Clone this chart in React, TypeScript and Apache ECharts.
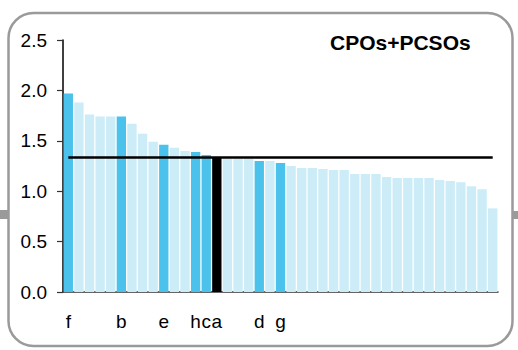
import React, { useEffect, useRef } from "react";
import * as echarts from "echarts";

const categories: string[] = [
  "f", "", "", "", "", "b", "", "", "", "e",
  "", "", "h", "c", "a", "", "", "", "d", "",
  "g", "", "", "", "", "", "", "", "", "",
  "", "", "", "", "", "", "", "", "", "", "",
];

const values: number[] = [
  1.97, 1.88, 1.76, 1.74, 1.74, 1.74, 1.67, 1.57, 1.49, 1.46,
  1.43, 1.40, 1.39, 1.36, 1.335, 1.32, 1.32, 1.32, 1.30, 1.30,
  1.28, 1.25, 1.23, 1.23, 1.22, 1.21, 1.21, 1.17, 1.17, 1.17,
  1.14, 1.13, 1.13, 1.13, 1.13, 1.11, 1.10, 1.09, 1.05, 1.02, 0.83,
];

// 0 = other, 1 = highlighted, 2 = selected
const kinds: number[] = categories.map((c) => (c === "a" ? 2 : c ? 1 : 0));

const referenceValue = 1.332;
const yTicks: number[] = [0, 0.5, 1.0, 1.5, 2.0, 2.5];
const title = "CPOs+PCSOs";

const kindColors = ["#CCECF8", "#4BC2EC", "#000000"];
const FONT = "'Liberation Sans', Arial, Helvetica, sans-serif";

export default function App() {
  const ref = useRef<HTMLDivElement>(null);
  useEffect(() => {
    if (!ref.current) return;
    const chart = echarts.init(ref.current, null, { renderer: "svg" });
    chart.setOption({
      animation: false,
      title: {
        text: title,
        left: 330,
        top: 32,
        padding: 0,
        textStyle: { fontSize: 21, fontWeight: "bold", color: "#000", fontFamily: FONT },
      },
      grid: { left: 63, right: 20, top: 40, bottom: 58, containLabel: false },
      xAxis: {
        type: "category",
        data: categories,
        axisLine: { show: true, lineStyle: { color: "#333", width: 1.5 } },
        axisTick: { show: false },
        axisLabel: { interval: 0, fontSize: 19, color: "#000", margin: 20, fontFamily: FONT },
        splitLine: { show: false },
      },
      yAxis: {
        type: "value",
        min: yTicks[0],
        max: yTicks[yTicks.length - 1],
        interval: 0.5,
        axisLine: { show: true, lineStyle: { color: "#000", width: 1.5 } },
        axisTick: { show: true, length: 6, lineStyle: { color: "#333", width: 1.2 } },
        axisLabel: {
          fontSize: 19,
          color: "#000",
          margin: 16,
          fontFamily: FONT,
          formatter: (v: number) => v.toFixed(1),
        },
        splitLine: { show: false },
      },
      series: [
        {
          type: "bar",
          data: values.map((v, i) => ({ value: v, itemStyle: { color: kindColors[kinds[i]] } })),
          barCategoryGap: "12%",
          silent: true,
          markLine: {
            silent: true,
            symbol: "none",
            label: { show: false },
            lineStyle: { color: "#000", width: 2.5, type: "solid" },
            data: [
              [
                { coord: [0, referenceValue] },
                { coord: [values.length - 1, referenceValue] },
              ],
            ],
          },
        },
      ],
      graphic: [
        {
          type: "rect",
          shape: { x: 8.5, y: 13, width: 504, height: 333, r: 25 },
          style: { fill: "none", stroke: "#9a9a9a", lineWidth: 2.5 },
          silent: true,
        },
        { type: "rect", shape: { x: 0, y: 210, width: 8, height: 9 }, style: { fill: "#9a9a9a" }, silent: true },
        { type: "rect", shape: { x: 513, y: 211, width: 5, height: 8 }, style: { fill: "#9a9a9a" }, silent: true },
      ],
    });
    return () => chart.dispose();
  }, []);
  return (
    <div
      ref={ref}
      style={{ position: "fixed", left: 0, top: 0, width: 518, height: 350, background: "#fff" }}
    />
  );
}
